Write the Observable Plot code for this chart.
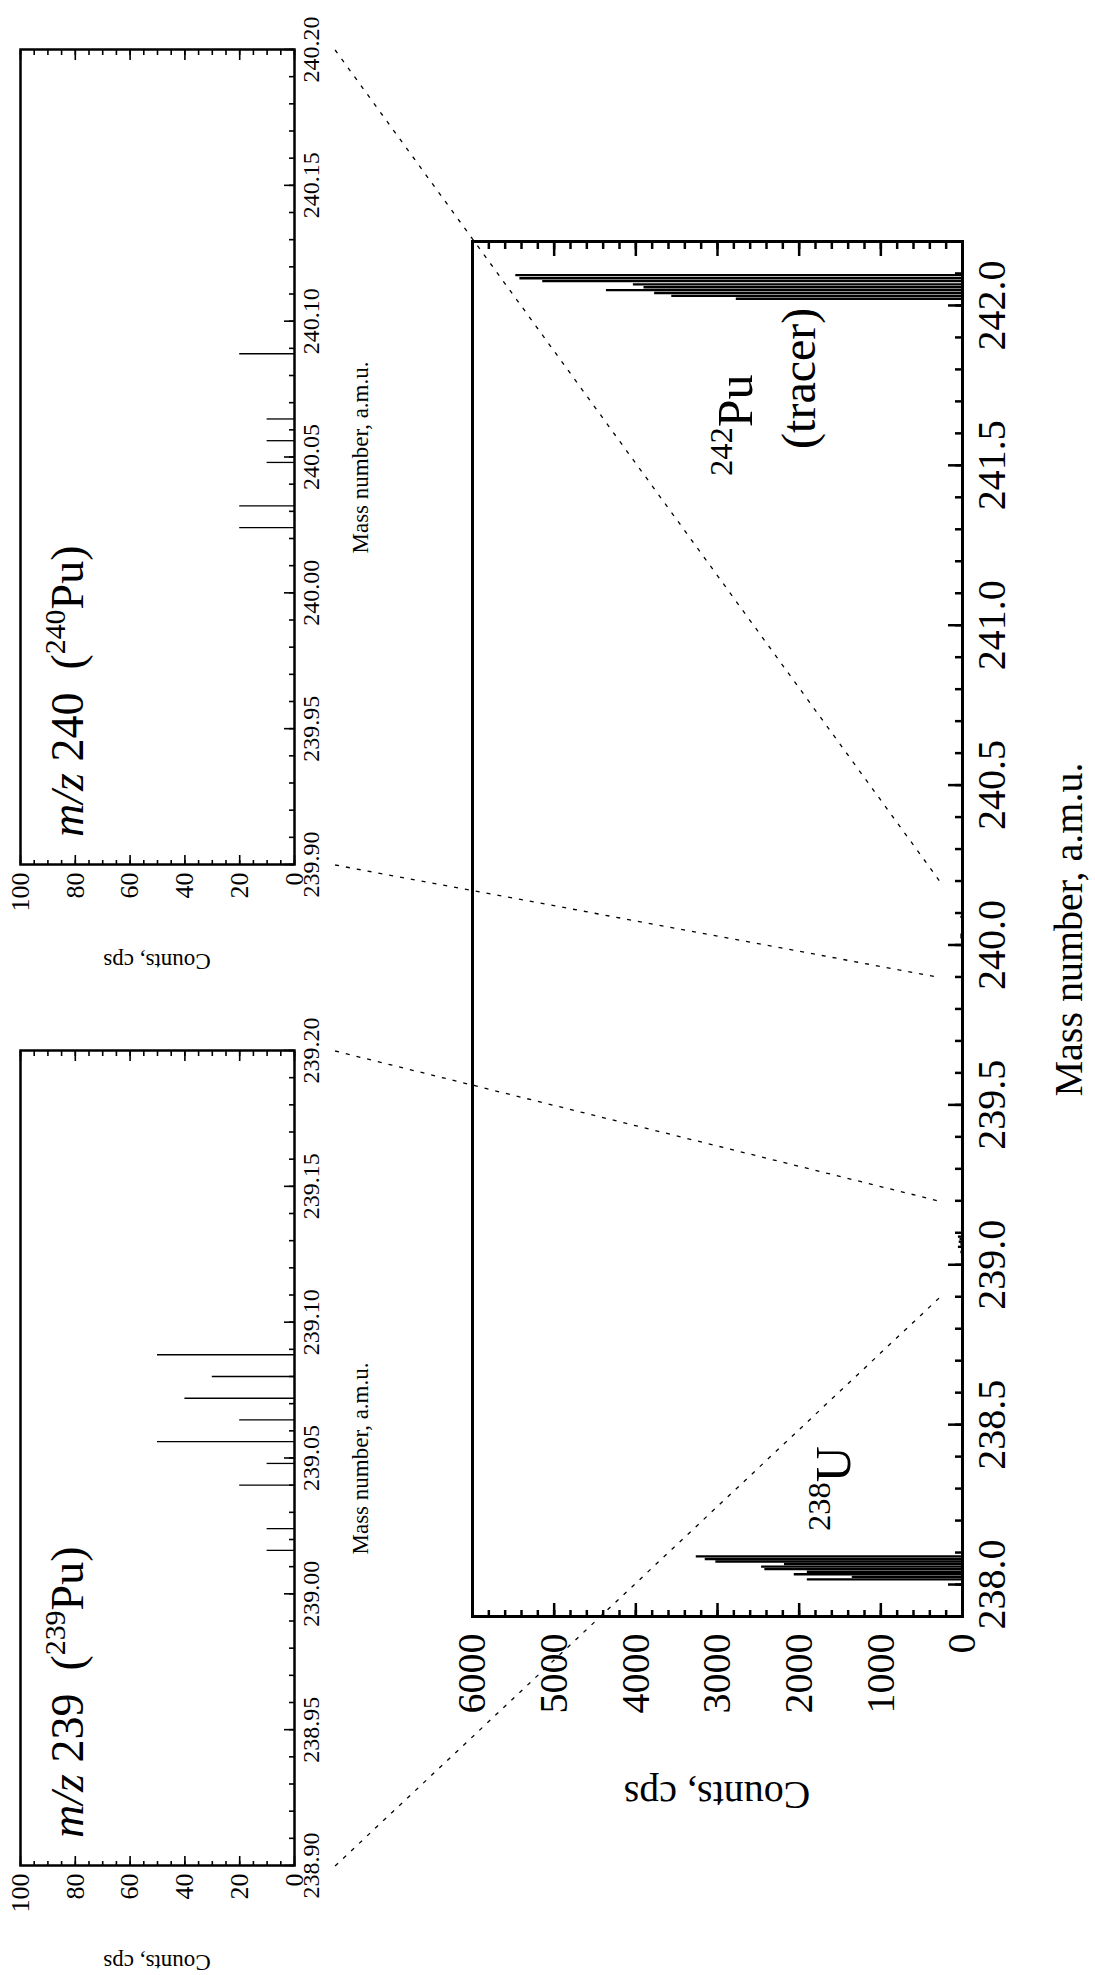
<!DOCTYPE html>
<html><head><meta charset="utf-8">
<script src="https://cdn.jsdelivr.net/npm/d3@7"></script>
<script src="https://cdn.jsdelivr.net/npm/@observablehq/plot@0.6"></script>
<style>
html,body{margin:0;padding:0;background:#fff;}
body{width:1095px;height:1975px;overflow:hidden;position:relative;}
#fig{position:absolute;left:0;top:0;width:1975px;height:1095px;transform-origin:0 0;transform:translateY(1975px) rotate(-90deg);font-family:"Liberation Serif","Times New Roman",serif;}
#fig svg{position:absolute;left:0;top:0;font-family:"Liberation Serif","Times New Roman",serif !important;}
#fig svg text, #fig svg g{font-family:"Liberation Serif","Times New Roman",serif !important;}
</style></head><body><div id="fig"></div>
<script>
// ---- data ----
const u238Mass   = [238.016, 238.024, 238.032, 238.040, 238.048, 238.056, 238.064, 238.072, 238.080, 238.088];
const u238Counts = [1900, 1350, 2060, 1900, 2420, 2460, 2180, 3020, 3150, 3260];
const pu242Mass   = [242.021, 242.030, 242.039, 242.048, 242.057, 242.066, 242.076, 242.085, 242.095];
const pu242Counts = [2770, 3560, 3770, 4360, 3900, 4030, 5140, 5420, 5470];
const pu239Mass   = [239.016, 239.024, 239.040, 239.048, 239.056, 239.064, 239.072, 239.080, 239.088];
const pu239Counts = [10, 10, 20, 10, 50, 20, 40, 30, 50];
const pu240Mass   = [240.024, 240.032, 240.048, 240.056, 240.064, 240.088];
const pu240Counts = [20, 20, 10, 10, 10, 20];

const mainXTicks = [238.0, 238.5, 239.0, 239.5, 240.0, 240.5, 241.0, 241.5, 242.0];
const mainYTicks = [0, 1000, 2000, 3000, 4000, 5000, 6000];
const inset239XTicks = [238.90, 238.95, 239.00, 239.05, 239.10, 239.15, 239.20];
const inset240XTicks = [239.90, 239.95, 240.00, 240.05, 240.10, 240.15, 240.20];
const insetYTicks = [0, 20, 40, 60, 80, 100];
// zoom connections: inset range -> main axis
const zoomEnds239 = [238.90, 239.20];
const zoomEnds240 = [239.90, 240.20];

const zip = (m, c) => m.map((d, i) => ({mass: d, counts: c[i]}));
const d238 = zip(u238Mass, u238Counts), d242 = zip(pu242Mass, pu242Counts);
const d239 = zip(pu239Mass, pu239Counts), d240 = zip(pu240Mass, pu240Counts);
const mainData = [...d238, ...d239, ...d240, ...d242];

const FONT = "Liberation Serif";
const W = 1975, H = 1095;
const fig = document.getElementById("fig");
const rnd = x => Math.round(x * 1000) / 1000;

// ---- main chart ----
const MM = {left: 358, right: 242, top: 472, bottom: 133};
const mW = W - MM.left - MM.right, mH = H - MM.top - MM.bottom;
const mainXMinor = d3.range(2379, 2423, 1).map(d => rnd(d / 10));
const mainYMinor = d3.range(0, 6001, 200);

const mainPlot = Plot.plot({
  width: W, height: H,
  marginLeft: MM.left, marginRight: MM.right, marginTop: MM.top, marginBottom: MM.bottom,
  style: {background: "transparent", fontFamily: FONT, fontSize: "40px", overflow: "visible", color: "black"},
  x: {domain: [237.9, 242.2], axis: null},
  y: {domain: [0, 6000], axis: null},
  marks: [
    Plot.ruleX(mainData, {x: "mass", y1: 0, y2: "counts", stroke: "black", strokeWidth: 2.4}),
    Plot.ruleX(mainXMinor, {x: d => d, insetTop: mH - 7, stroke: "black", strokeWidth: 2.5}),
    Plot.ruleX(mainXTicks, {x: d => d, insetTop: mH - 14, stroke: "black", strokeWidth: 2.5}),
    Plot.ruleY(mainYMinor, {y: d => d, insetRight: mW - 7, stroke: "black", strokeWidth: 2.5}),
    Plot.ruleY(mainYMinor, {y: d => d, insetLeft: mW - 7, stroke: "black", strokeWidth: 2.5}),
    Plot.ruleY(mainYTicks, {y: d => d, insetRight: mW - 14, stroke: "black", strokeWidth: 2.5}),
    Plot.ruleY(mainYTicks, {y: d => d, insetLeft: mW - 14, stroke: "black", strokeWidth: 2.5}),
    Plot.axisX(mainXTicks, {tickSize: 0, tickPadding: 14, tickFormat: d3.format(".1f"), fontSize: 40, fontFamily: FONT, fontVariant: "normal", label: null, fill: "black"}),
    Plot.axisY(mainYTicks, {tickSize: 0, tickPadding: 17, tickFormat: d => String(d), fontSize: 40, fontFamily: FONT, fontVariant: "normal", label: null, fill: "black"}),
    Plot.frame({stroke: "black", strokeWidth: 3})
  ]
});
fig.appendChild(mainPlot);

// ---- insets ----
function inset(data, domain, xTicks, left) {
  const M = {left: left, right: W - left - 815, top: 20, bottom: H - 294};
  const iW = 815, iH = H - M.top - M.bottom;
  const xMinor = d3.range(Math.round(domain[0] * 100), Math.round(domain[1] * 100) + 1).map(d => rnd(d / 100));
  const yMinor = d3.range(0, 101, 5);
  return Plot.plot({
    width: W, height: H,
    marginLeft: M.left, marginRight: M.right, marginTop: M.top, marginBottom: M.bottom,
    style: {background: "transparent", fontFamily: FONT, fontSize: "24px", overflow: "visible", color: "black"},
    x: {domain, axis: null},
    y: {domain: [0, 100], axis: null},
    marks: [
      Plot.ruleX(data, {x: "mass", y1: 0, y2: "counts", stroke: "black", strokeWidth: 1.3}),
      Plot.ruleX(xMinor, {x: d => d, insetTop: iH - 5, stroke: "black", strokeWidth: 1.6}),
      Plot.ruleX(xTicks, {x: d => d, insetTop: iH - 10, stroke: "black", strokeWidth: 1.6}),
      Plot.ruleY(yMinor, {y: d => d, insetRight: iW - 5, stroke: "black", strokeWidth: 1.6}),
      Plot.ruleY(yMinor, {y: d => d, insetLeft: iW - 5, stroke: "black", strokeWidth: 1.6}),
      Plot.ruleY(insetYTicks, {y: d => d, insetRight: iW - 10, stroke: "black", strokeWidth: 1.6}),
      Plot.ruleY(insetYTicks, {y: d => d, insetLeft: iW - 10, stroke: "black", strokeWidth: 1.6}),
      Plot.axisX(xTicks, {tickSize: 0, tickPadding: 7, tickFormat: d3.format(".2f"), fontSize: 24, fontFamily: FONT, fontVariant: "normal", label: null, fill: "black"}),
      Plot.axisY(insetYTicks, {tickSize: 0, tickPadding: 8, tickFormat: d => String(d), fontSize: 26, fontFamily: FONT, fontVariant: "normal", label: null, fill: "black"}),
      Plot.frame({stroke: "black", strokeWidth: 2.5})
    ]
  });
}
const p239 = inset(d239, zoomEnds239, inset239XTicks, 109);
const p240 = inset(d240, zoomEnds240, inset240XTicks, 1110);
fig.appendChild(p239);
fig.appendChild(p240);

// ---- overlay: zoom lines and labels ----
const mx = mainPlot.scale("x"), my = mainPlot.scale("y");
const ov = d3.select(fig).append("svg").attr("width", W).attr("height", H)
  .style("overflow", "visible").style("font-family", FONT);

function zoomLines(plot, ends) {
  const ix = plot.scale("x"), iy = plot.scale("y");
  for (const e of ends) {
    ov.append("line")
      .attr("x1", ix.apply(e)).attr("y1", iy.apply(-15))
      .attr("x2", mx.apply(e)).attr("y2", my.apply(270))
      .attr("stroke", "black").attr("stroke-width", 1.3).attr("stroke-dasharray", "4,7");
  }
}
zoomLines(p239, zoomEnds239);
zoomLines(p240, zoomEnds240);

function sup(t, base, supText, rest, size) {
  t.append("tspan").text(base);
  t.append("tspan").attr("font-size", size * 0.65).attr("dy", -size * 0.4).text(supText);
  t.append("tspan").attr("dy", size * 0.4).text(rest);
}

// main axis labels
ov.append("text").attr("x", (mx.apply(237.9) + mx.apply(242.2)) / 2).attr("y", 1082)
  .attr("text-anchor", "middle").attr("font-size", 40).text("Mass number, a.m.u.");
ov.append("text").attr("transform", `translate(193,${(my.apply(0) + my.apply(6000)) / 2}) rotate(-90)`)
  .attr("text-anchor", "middle").attr("font-size", 40).text("Counts, cps");

// peak annotations
{
  const t = ov.append("text").attr("x", mx.apply(238.169)).attr("y", my.apply(1371)).attr("font-size", 50);
  sup(t, "", "238", "U", 50);
  const t2 = ov.append("text").attr("x", mx.apply(241.468)).attr("y", my.apply(2571)).attr("font-size", 50);
  sup(t2, "", "242", "Pu", 50);
  ov.append("text").attr("x", mx.apply(241.553)).attr("y", my.apply(1800)).attr("font-size", 48).text("(tracer)");
}

// inset labels
function insetLabels(plot, x0, x1, num) {
  const ix = plot.scale("x"), iy = plot.scale("y");
  const left = ix.apply(x0);
  ov.append("text").attr("x", (ix.apply(x0) + ix.apply(x1)) / 2).attr("y", iy.apply(0) + 74)
    .attr("text-anchor", "middle").attr("font-size", 23).text("Mass number, a.m.u.");
  ov.append("text").attr("transform", `translate(${left - 89},${(iy.apply(0) + iy.apply(100)) / 2}) rotate(-90)`)
    .attr("text-anchor", "middle").attr("font-size", 23).text("Counts, cps");
  const t = ov.append("text").attr("x", left + 28).attr("y", iy.apply(77)).attr("font-size", 46)
    .style("white-space", "pre");
  t.append("tspan").attr("font-style", "italic").text("m/z");
  t.append("tspan").text(" " + num + "  (");
  t.append("tspan").attr("font-size", 46 * 0.65).attr("dy", -46 * 0.4).text(String(num));
  t.append("tspan").attr("dy", 46 * 0.4).text("Pu)");
}
insetLabels(p239, zoomEnds239[0], zoomEnds239[1], 239);
insetLabels(p240, zoomEnds240[0], zoomEnds240[1], 240);
</script></body></html>
